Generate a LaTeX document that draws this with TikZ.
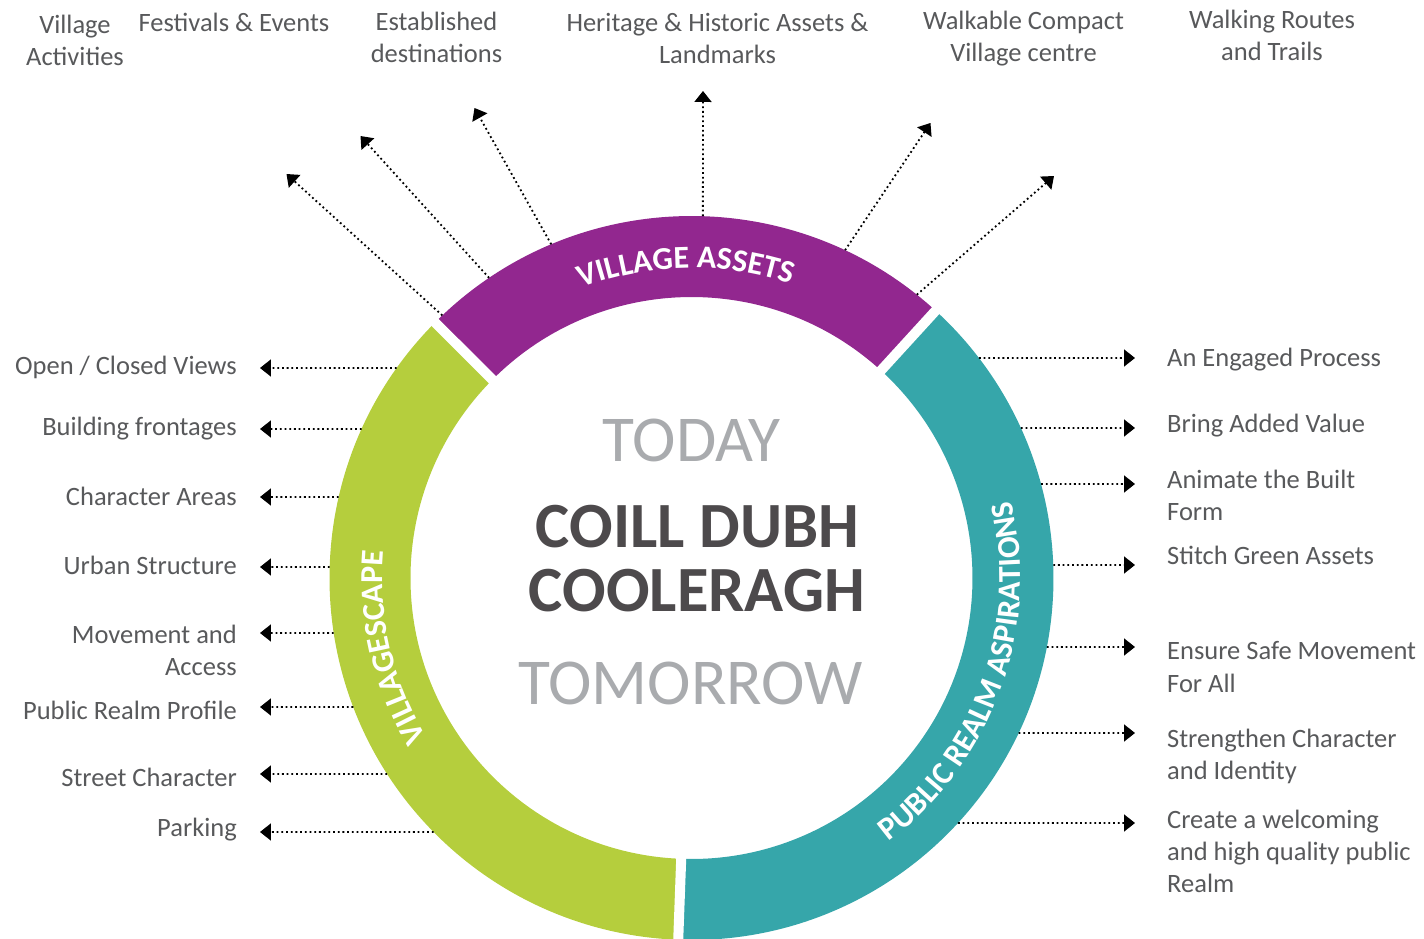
\documentclass[tikz,border=0pt]{standalone}
\usepackage{fontspec}
\setmainfont{Carlito}
\usetikzlibrary{calc}
\usetikzlibrary{arrows.meta}
\usetikzlibrary{decorations.text}
\definecolor{assetpurple}{HTML}{92278F}
\definecolor{scapegreen}{HTML}{B5CE3D}
\definecolor{realmteal}{HTML}{36A6AA}
\definecolor{labelgrey}{HTML}{58595B}
\definecolor{titlegrey}{HTML}{4D4A4C}
\definecolor{lightgrey}{HTML}{A9ABAE}
\newcommand{\labelfont}{\fontsize{26.5}{32}\selectfont}
\newcommand{\ringfont}{\fontsize{32}{38}\selectfont\bfseries\color{white}}
\tikzstyle{dotarrow}=[black, line width=1.8pt, dash pattern=on 1.8pt off 2.9pt, -{Triangle[length=11pt,width=17pt]}]
\tikzstyle{lefttext}=[anchor=base east, align=right, inner sep=0pt, text=labelgrey, font=\labelfont]
\tikzstyle{righttext}=[anchor=base west, align=left, inner sep=0pt, text=labelgrey, font=\labelfont]
\tikzstyle{toptext}=[anchor=base, align=center, inner sep=0pt, text=labelgrey, font=\labelfont]
\tikzstyle{bigword}=[anchor=base, inner sep=0pt]
\newcommand{\ringsegment}[3]{ % colour, start angle, end angle
  \fill[#1] (#2:\Rout) arc (#2:#3:\Rout) -- (#3:\Rin) arc (#3:#2:\Rin) -- cycle;
}
\newcommand{\ringgap}[1]{
  \draw[white, line width=10pt] (#1:\Rin-2) -- (#1:\Rout+2);
}
\newcommand{\ringtitle}[4]{ % start angle, end angle, radius, text
  \path[decorate, decoration={text along path, text align=center, text={|\ringfont|#4}}] (#1:#3) arc (#1:#2:#3);
}

\begin{document}
\begin{tikzpicture}[x=1pt,y=1pt]
\useasboundingbox (-691.5,-361) rectangle (732.5,578);
\pgfmathsetmacro{\Rout}{362}
\pgfmathsetmacro{\Rin}{281}
% ring
\ringsegment{assetpurple}{47.6}{135.1}
\ringsegment{scapegreen}{135.1}{267.9}
\ringsegment{realmteal}{-92.1}{47.6}
\ringgap{47.6}
\ringgap{135.1}
\ringgap{267.9}
% ring titles
\ringtitle{130}{52}{310}{VILLAGE ASSETS}
\ringtitle{237}{149}{309}{VILLAGESCAPE}
\ringtitle{-70}{30.4}{329}{PUBLIC REALM ASPIRATIONS}
% centre
\node[bigword, text=lightgrey, font=\fontsize{65.5}{70}\selectfont] (today) at (0,116) {TODAY};
\node[bigword, text=titlegrey, font=\fontsize{64.5}{70}\selectfont\bfseries] (coill) at (6,30) {COILL DUBH};
\node[bigword, text=titlegrey, font=\fontsize{64.5}{70}\selectfont\bfseries] (cool) at (5.5,-34) {COOLERAGH};
\node[bigword, text=lightgrey, font=\fontsize{65.5}{70}\selectfont] (tomorrow) at (-1,-127) {TOMORROW};
% village assets (top)
\foreach \sa/\tx/\ty [count=\i] in {133.5/-405/404, 124/-331/442, 112.8/-217/470, 88.2/11.5/487, 64.9/239/455, 51.5/362.5/402} {
  \coordinate (va\i) at (\sa:\Rout);
  \coordinate (vatip\i) at (\tx,\ty);
  \draw[dotarrow] (va\i) -- (vatip\i);
}
% multi-line labels sit on the baseline of their last line
\node[toptext] (activities) at (-616.5,512) {Village\\Activities};
\node[toptext] (festivals) at (-457.5,546) {Festivals \& Events};
\node[toptext] (established) at (-255,515.5) {Established\\destinations};
\node[toptext] (heritage) at (26,514) {Heritage \& Historic Assets \&\\Landmarks};
\node[toptext] (walkable) at (332,516) {Walkable Compact\\Village centre};
\node[toptext] (routes) at (580.5,517) {Walking Routes\\and Trails};
% villagescape (left)
\foreach \ay [count=\i] in {210,149,81,11,-55,-129,-196,-254} {
  \coordinate (vs\i) at ({180-asin(\ay/\Rout)}:\Rout);
  \coordinate (vstip\i) at (-431.5,\ay);
  \draw[dotarrow] (vs\i) -- (vstip\i);
}
\foreach \ly/\txt [count=\i] in {203.5/{Open / Closed Views}, 142/{Building frontages}, 72/{Character Areas}, 3/{Urban Structure}, -98/{Movement and\\Access}, -141/{Public Realm Profile}, -208/{Street Character}, -258/{Parking}} {
  \node[lefttext] (vslabel\i) at (-454.5,\ly) {\txt};
}
% public realm aspirations (right)
\foreach \ay [count=\i] in {220,150,94,13,-69,-155,-245} {
  \coordinate (pr\i) at ({asin(\ay/\Rout)}:\Rout);
  \coordinate (prtip\i) at (443.5,\ay);
  \draw[dotarrow] (pr\i) -- (prtip\i);
}
\foreach \ly/\txt [count=\i] in {211/{An Engaged Process}, 145/{Bring Added Value}, 57/{Animate the Built\\Form}, 13/{Stitch Green Assets}, -114/{Ensure Safe Movement\\For All}, -201/{Strengthen Character\\and Identity}, -314/{Create a welcoming\\and high quality public\\Realm}} {
  \node[righttext] (prlabel\i) at (475.5,\ly) {\txt};
}
\end{tikzpicture}
\end{document}
